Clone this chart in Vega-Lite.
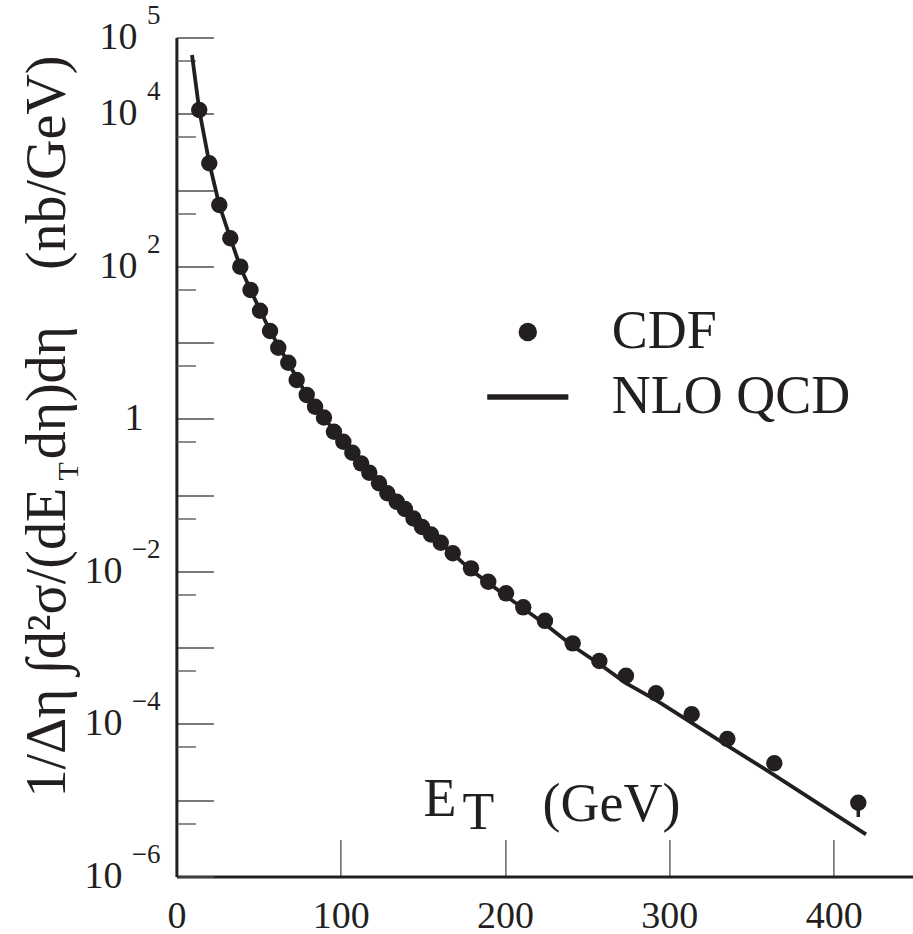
{
  "$schema": "https://vega.github.io/schema/vega-lite/v6.json",
  "width": 736.6,
  "height": 839,
  "autosize": "none",
  "padding": {"left": 176.4, "top": 37.5, "right": 0, "bottom": 57.5},
  "background": "white",
  "config": {"view": {"stroke": null}, "axis": {"grid": false}, "font": "Liberation Serif"},
  "datasets": {
    "cdf": [
      {"et": 13.9, "sigma": 11200, "series": "CDF"},
      {"et": 20.0, "sigma": 2245, "series": "CDF"},
      {"et": 26.1, "sigma": 637, "series": "CDF"},
      {"et": 32.8, "sigma": 233, "series": "CDF"},
      {"et": 38.9, "sigma": 98.9, "series": "CDF"},
      {"et": 45.1, "sigma": 48.9, "series": "CDF"},
      {"et": 50.9, "sigma": 26.2, "series": "CDF"},
      {"et": 57.0, "sigma": 14.2, "series": "CDF"},
      {"et": 62.0, "sigma": 8.57, "series": "CDF"},
      {"et": 68.1, "sigma": 5.45, "series": "CDF"},
      {"et": 73.2, "sigma": 3.23, "series": "CDF"},
      {"et": 79.3, "sigma": 2.06, "series": "CDF"},
      {"et": 84.4, "sigma": 1.44, "series": "CDF"},
      {"et": 89.8, "sigma": 1.04, "series": "CDF"},
      {"et": 95.9, "sigma": 0.678, "series": "CDF"},
      {"et": 101.6, "sigma": 0.501, "series": "CDF"},
      {"et": 107.1, "sigma": 0.360, "series": "CDF"},
      {"et": 112.4, "sigma": 0.261, "series": "CDF"},
      {"et": 117.4, "sigma": 0.197, "series": "CDF"},
      {"et": 123.3, "sigma": 0.143, "series": "CDF"},
      {"et": 128.4, "sigma": 0.106, "series": "CDF"},
      {"et": 134.1, "sigma": 0.0820, "series": "CDF"},
      {"et": 139.1, "sigma": 0.0658, "series": "CDF"},
      {"et": 144.3, "sigma": 0.0493, "series": "CDF"},
      {"et": 149.5, "sigma": 0.0382, "series": "CDF"},
      {"et": 155.0, "sigma": 0.0305, "series": "CDF"},
      {"et": 160.9, "sigma": 0.0238, "series": "CDF"},
      {"et": 168.2, "sigma": 0.0173, "series": "CDF"},
      {"et": 179.3, "sigma": 0.01097, "series": "CDF"},
      {"et": 189.8, "sigma": 0.00733, "series": "CDF"},
      {"et": 200.6, "sigma": 0.00516, "series": "CDF"},
      {"et": 211.1, "sigma": 0.00338, "series": "CDF"},
      {"et": 224.3, "sigma": 0.00225, "series": "CDF"},
      {"et": 241.2, "sigma": 0.00114, "series": "CDF"},
      {"et": 257.4, "sigma": 0.000668, "series": "CDF"},
      {"et": 273.6, "sigma": 0.000429, "series": "CDF"},
      {"et": 291.9, "sigma": 0.000252, "series": "CDF"},
      {"et": 313.6, "sigma": 0.000134, "series": "CDF"},
      {"et": 335.3, "sigma": 0.0000634, "series": "CDF"},
      {"et": 363.9, "sigma": 0.0000305, "series": "CDF"},
      {"et": 415.0, "sigma": 0.00000927, "series": "CDF"}
    ],
    "nlo": [
      {"et": 9.5, "sigma": 59000},
      {"et": 13.9, "sigma": 11200},
      {"et": 20.0, "sigma": 2265},
      {"et": 26.1, "sigma": 637},
      {"et": 32.8, "sigma": 235},
      {"et": 38.9, "sigma": 98},
      {"et": 45.1, "sigma": 48.9},
      {"et": 57.0, "sigma": 14.2},
      {"et": 68.1, "sigma": 5.41},
      {"et": 79.3, "sigma": 2.06},
      {"et": 89.8, "sigma": 1.03},
      {"et": 101.6, "sigma": 0.498},
      {"et": 112.4, "sigma": 0.264},
      {"et": 123.3, "sigma": 0.144},
      {"et": 134.1, "sigma": 0.0813},
      {"et": 144.3, "sigma": 0.0494},
      {"et": 160.9, "sigma": 0.0236},
      {"et": 179.3, "sigma": 0.0104},
      {"et": 200.6, "sigma": 0.00475},
      {"et": 224.3, "sigma": 0.00204},
      {"et": 241.2, "sigma": 0.00105},
      {"et": 257.4, "sigma": 0.000611},
      {"et": 273.6, "sigma": 0.000344},
      {"et": 291.9, "sigma": 0.000205},
      {"et": 313.6, "sigma": 0.000103},
      {"et": 335.3, "sigma": 0.000052},
      {"et": 363.9, "sigma": 0.0000214},
      {"et": 419.7, "sigma": 0.00000357}
    ],
    "err": [
      {"et": 415.0, "sigma": 0.00000927, "lo": 0.00000603}
    ]
  },
  "resolve": {"axis": {"x": "independent", "y": "independent"}},
  "layer": [
    {
      "data": {"name": "nlo"},
      "mark": {"type": "line", "color": "#231f20", "strokeWidth": 3.8, "clip": true},
      "encoding": {
        "x": {
          "field": "et", "type": "quantitative",
          "scale": {"domain": [0, 448.3], "nice": false, "zero": false},
          "axis": {
            "orient": "bottom",
            "values": [0, 100, 200, 300, 400],
            "tickSize": -37, "tickColor": "#4d4d4d", "tickWidth": 1.3,
            "domainColor": "#231f20", "domainWidth": 3,
            "labelFont": "Liberation Serif", "labelFontSize": 38, "labelColor": "#231f20",
            "labelPadding": 57.5, "labelBaseline": "top", "labelFlush": false, "labelOverlap": false,
            "title": "E", "titleFont": "Liberation Serif", "titleFontSize": 54, "titleFontWeight": "normal",
            "titleColor": "#231f20", "titleAlign": "left", "titleBaseline": "alphabetic", "titleAngle": 0,
            "titleX": 246.6, "titleY": -61.5
          }
        },
        "y": {
          "field": "sigma", "type": "quantitative",
          "scale": {"type": "log", "domain": [0.000001, 100000], "nice": false},
          "axis": {
            "orient": "left",
            "values": [0.000001, 0.00001, 0.0001, 0.001, 0.01, 0.1, 1, 10, 100, 1000, 10000, 100000],
            "tickSize": -37, "tickColor": "#4d4d4d", "tickWidth": 1.3,
            "domainColor": "#231f20", "domainWidth": 3,
            "labelExpr": "datum.value == 1 ? '1' : (indexof([5,4,2,-2,-4,-6], round(log(datum.value)/LN10)) >= 0 ? '10' : '')",
            "labelFont": "Liberation Serif", "labelFontSize": 38, "labelColor": "#231f20",
            "labelPadding": {"condition": [{"test": "datum.value == 1", "value": 70.4}, {"test": "datum.value < 1", "value": 91.4}], "value": 76.4},
            "labelBaseline": "middle", "labelFlush": false, "labelOverlap": false, "labelBound": false,
            "title": "1/Δη\u00a0∫d²σ/(dE", "titleFont": "Liberation Serif", "titleFontSize": 56, "titleFontWeight": "normal",
            "titleColor": "#231f20", "titleAngle": -90, "titleAlign": "left", "titleBaseline": "alphabetic",
            "titleX": -111.4, "titleY": 759.5
          }
        }
      }
    },
    {
      "data": {"name": "cdf"},
      "mark": {"type": "point", "filled": true, "color": "#231f20", "opacity": 1, "size": 270},
      "encoding": {
        "x": {
          "field": "et", "type": "quantitative",
          "axis": {
            "orient": "bottom", "ticks": false, "labels": false, "domain": false,
            "title": "T", "titleFont": "Liberation Serif", "titleFontSize": 52, "titleFontWeight": "normal",
            "titleColor": "#231f20", "titleAlign": "left", "titleBaseline": "alphabetic", "titleAngle": 0,
            "titleX": 285.6, "titleY": -48.5
          }
        },
        "y": {
          "field": "sigma", "type": "quantitative",
          "axis": {
            "orient": "left",
            "values": [0.000001, 0.00001, 0.0001, 0.001, 0.01, 0.1, 1, 10, 100, 1000, 10000, 100000],
            "ticks": false, "domain": false,
            "labelExpr": "indexof([5,4,2], round(log(datum.value)/LN10)) >= 0 ? '' + round(log(datum.value)/LN10) : (indexof([-2,-4,-6], round(log(datum.value)/LN10)) >= 0 ? '−' + (-round(log(datum.value)/LN10)) : '')",
            "labelFont": "Liberation Serif", "labelFontSize": 27, "labelColor": "#231f20",
            "labelPadding": 16.4, "labelOffset": -22, "labelBaseline": "middle",
            "labelFlush": false, "labelOverlap": false, "labelBound": false,
            "title": "T", "titleFont": "Liberation Serif", "titleFontSize": 30, "titleFontWeight": "normal",
            "titleColor": "#231f20", "titleAngle": -90, "titleAlign": "left", "titleBaseline": "alphabetic",
            "titleX": -98.4, "titleY": 442.5
          }
        },
        "shape": {
          "field": "series", "type": "nominal",
          "scale": {"domain": ["CDF", "NLO QCD"], "range": ["circle", "M-4.4,-0.3H4.4V0.3H-4.4Z"]},
          "legend": {
            "orient": "none", "legendX": 324.4, "legendY": 267.5, "title": null, "padding": 0,
            "labelFont": "Liberation Serif", "labelFontSize": 54, "labelColor": "#231f20", "labelOffset": 57,
            "labelLimit": 500, "rowPadding": 11, "symbolSize": 340, "symbolFillColor": "#231f20",
            "symbolStrokeWidth": 0, "symbolOpacity": 1
          }
        }
      }
    },
    {
      "data": {"name": "err"},
      "mark": {"type": "rule", "color": "#231f20", "strokeWidth": 3.5},
      "encoding": {
        "x": {
          "field": "et", "type": "quantitative",
          "axis": {
            "orient": "bottom", "ticks": false, "labels": false, "domain": false,
            "title": "(GeV)", "titleFont": "Liberation Serif", "titleFontSize": 54, "titleFontWeight": "normal",
            "titleColor": "#231f20", "titleAlign": "left", "titleBaseline": "alphabetic", "titleAngle": 0,
            "titleX": 365.6, "titleY": -56.5
          }
        },
        "y": {
          "field": "sigma", "type": "quantitative",
          "axis": {
            "orient": "left",
            "values": [0.000005, 0.00005, 0.0005, 0.005, 0.05, 0.5, 5, 50, 500, 5000, 50000],
            "tickSize": -19, "tickColor": "#4d4d4d", "tickWidth": 1.3,
            "labels": false, "domain": false,
            "title": "dη)dη\u00a0\u00a0\u00a0\u00a0(nb/GeV)", "titleFont": "Liberation Serif", "titleFontSize": 56, "titleFontWeight": "normal",
            "titleColor": "#231f20", "titleAngle": -90, "titleAlign": "right", "titleBaseline": "alphabetic",
            "titleX": -111.4, "titleY": 17.5
          }
        },
        "y2": {"field": "lo"}
      }
    }
  ]
}
